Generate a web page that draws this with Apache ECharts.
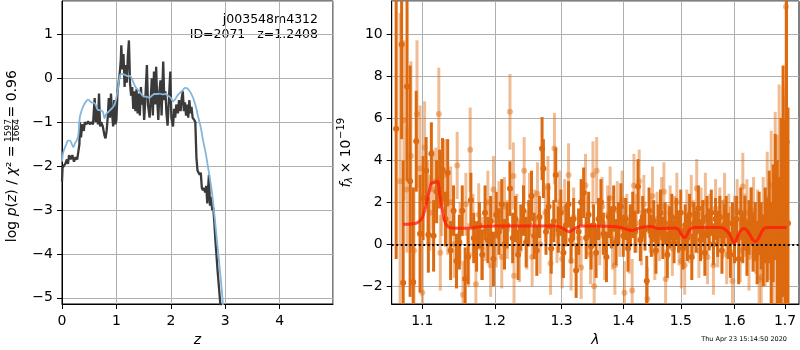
<!DOCTYPE html>
<html><head><meta charset="utf-8">
<script src="https://cdn.jsdelivr.net/npm/echarts@6/dist/echarts.min.js"></script>
<style>html,body{margin:0;padding:0;background:#fff}#c{width:800px;height:350px}</style>
</head><body><div id="c"></div><script>
// ---------- Left panel: log p(z) and chi2 curves ----------
const chi2Z = [0.00,0.01,0.03,0.06,0.09,0.11,0.13,0.16,0.19,0.22,0.25,0.28,0.30,0.32,0.33,0.35,0.37,0.40,0.42,0.45,0.48,0.51,0.54,0.57,0.60,0.62,0.64,0.66,0.68,0.70,0.72,0.75,0.78,0.80,0.82,0.84,0.86,0.88,0.90,0.92,0.94,0.96,0.98,1.00,1.02,1.04,1.06,1.08,1.09,1.11,1.13,1.15,1.17,1.19,1.21,1.23,1.25,1.27,1.29,1.31,1.33,1.35,1.37,1.39,1.41,1.43,1.45,1.47,1.49,1.51,1.53,1.56,1.58,1.61,1.63,1.65,1.67,1.69,1.71,1.73,1.75,1.77,1.79,1.81,1.83,1.86,1.88,1.90,1.92,1.94,1.96,1.99,2.01,2.04,2.06,2.08,2.10,2.13,2.15,2.18,2.20,2.22,2.24,2.26,2.28,2.30,2.32,2.34,2.36,2.38,2.40,2.43,2.45,2.47,2.49,2.51,2.53,2.55,2.57,2.59,2.61,2.63,2.65,2.67,2.69,2.70,2.72,2.74,2.76,2.78,2.80,2.82,2.84,2.86,2.88,2.90,2.92];
const chi2LogP = [-2.35,-2.05,-2.0,-1.95,-1.85,-1.95,-1.75,-1.85,-1.75,-1.9,-1.8,-1.85,-1.85,-1.5,-1.0,-1.35,-1.05,-1.2,-1.0,-1.05,-0.98,-1.05,-1.0,-1.05,-0.45,-1.0,-0.7,-1.05,-0.35,-1.1,-1.0,-1.1,-1.3,-1.37,-1.2,-0.9,-0.45,-0.9,-0.35,-0.8,-1.1,-0.5,-1.05,-0.95,-0.3,-0.1,0.1,0.4,0.75,0.2,0.55,-0.2,0.3,-0.1,0.5,0.86,-0.1,-0.4,-0.2,-0.7,-0.3,-0.75,-0.25,-0.8,-0.35,-0.85,-0.2,-0.6,-0.4,-0.95,-0.5,0.3,-0.6,-0.9,-0.5,0.0,-0.85,0.15,-0.6,0.26,-0.5,-0.95,-0.3,-0.05,-0.85,0.38,-0.5,-0.3,-0.8,-1.08,-0.6,0.15,-0.9,-1.1,-0.7,-0.9,-0.6,-0.8,-0.5,-0.75,-0.45,-0.3,-0.75,-0.55,-0.85,-0.6,-0.9,-0.5,-0.8,-0.65,-0.9,-0.95,-1.0,-1.8,-2.1,-2.15,-2.2,-2.15,-2.5,-2.55,-2.5,-2.6,-2.45,-2.85,-2.4,-2.2,-2.9,-2.7,-3.0,-2.95,-3.3,-3.7,-4.05,-4.4,-4.7,-5.0,-5.3];
const pzZ = [0.00,0.02,0.05,0.08,0.11,0.15,0.18,0.21,0.24,0.27,0.30,0.33,0.37,0.42,0.48,0.54,0.60,0.66,0.70,0.75,0.78,0.81,0.84,0.89,0.94,0.98,1.02,1.06,1.10,1.15,1.20,1.25,1.28,1.32,1.36,1.40,1.45,1.50,1.55,1.60,1.65,1.70,1.75,1.80,1.85,1.90,1.95,2.00,2.04,2.08,2.13,2.18,2.22,2.26,2.30,2.35,2.41,2.46,2.50,2.55,2.59,2.64,2.68,2.72,2.75,2.78,2.81,2.84,2.87,2.90,2.93,2.96];
const pzLogP = [-1.9,-1.7,-1.59,-1.5,-1.42,-1.42,-1.5,-1.57,-1.48,-1.42,-1.3,-0.87,-0.7,-0.57,-0.49,-0.55,-0.57,-0.72,-0.73,-0.76,-0.91,-0.82,-0.78,-0.72,-0.65,-0.55,-0.3,0.04,0.1,0.08,0.05,0.05,0.0,-0.12,-0.22,-0.27,-0.35,-0.42,-0.42,-0.45,-0.4,-0.36,-0.36,-0.35,-0.37,-0.36,-0.4,-0.45,-0.53,-0.48,-0.38,-0.32,-0.27,-0.22,-0.23,-0.3,-0.45,-0.65,-0.87,-1.12,-1.4,-1.7,-2.0,-2.3,-2.54,-2.87,-3.22,-3.6,-3.97,-4.35,-4.74,-5.19];

// ---------- Right panel: spectrum [lambda, flux, error] ----------
const spectrumA = [
[1.066,5.5,6.2],[1.073,9.5,4.5],[1.075,-1.83,5.8],[1.080,7.5,4.5],[1.084,3.0,5.5],[1.088,-1.8,4.5],[1.092,4.9,2.4],[1.097,0.5,2.8],
[1.101,2.2,2.0],[1.105,3.5,1.6],[1.108,0.45,1.8],[1.112,4.3,1.5],[1.115,0.4,1.7],[1.119,2.5,1.5],[1.123,3.1,1.4],[1.127,3.55,1.5],
[1.131,1.2,1.3],[1.134,3.4,1.6],[1.138,-0.3,1.4],[1.142,1.6,1.2],[1.146,-0.8,1.3],[1.150,0.1,1.3],[1.154,1.6,1.2],[1.158,-1.65,1.5],
[1.162,-0.6,1.3],[1.166,2.1,1.3],[1.170,0.3,1.2],[1.174,-0.1,1.2],[1.178,0.9,1.1],[1.182,-0.5,1.2],[1.186,1.5,1.3],[1.190,0.2,1.1],
[1.194,1.1,1.2],[1.198,-0.7,1.3],[1.202,1.4,1.1],[1.206,0.6,1.1],[1.210,1.9,1.2],[1.214,0.0,1.2],[1.218,0.9,1.1],[1.222,2.65,1.3],
[1.226,0.3,1.2],[1.230,1.2,1.1],[1.234,-0.5,1.2],[1.238,0.8,1.1],[1.242,1.6,1.2],[1.246,0.1,1.2],[1.250,1.0,1.1],[1.254,2.3,1.2],
[1.258,0.4,1.1],[1.262,-0.3,1.2],[1.266,1.3,1.0],[1.270,4.55,1.5],[1.272,3.6,1.4],[1.276,0.6,1.1],[1.280,1.8,1.1],[1.284,-0.2,1.2],
[1.288,1.1,1.0],[1.291,3.3,1.3],[1.295,0.7,1.1],[1.299,1.5,1.1],[1.303,-0.4,1.2],[1.307,0.9,1.0],[1.311,1.9,1.1],[1.315,0.2,1.1],
[1.319,1.2,1.0],[1.323,-1.25,1.3],[1.327,0.6,1.1],[1.331,2.0,1.1],[1.335,2.45,1.2],[1.339,0.3,1.0],[1.343,1.4,1.1],[1.347,-0.1,1.1],
[1.351,0.9,1.0],[1.355,-0.4,1.2],[1.359,1.2,1.0],[1.363,2.0,1.1],[1.367,0.5,1.0],[1.372,-0.6,1.2],[1.376,1.3,1.0],[1.380,0.8,1.0],
[1.384,1.7,1.1],[1.388,0.1,1.1],[1.392,1.0,1.0],[1.396,1.8,1.1],[1.400,0.4,1.0],[1.404,1.2,1.0],[1.408,-0.2,1.1],[1.412,0.9,1.0],
[1.416,1.4,1.1],[1.420,0.6,1.0],[1.425,2.75,1.3],[1.429,0.2,1.0],[1.433,1.3,1.0],[1.437,0.7,1.0],[1.440,-1.75,1.2],[1.444,1.6,1.1],
[1.448,0.4,1.0],[1.452,1.1,1.0],[1.456,-0.3,1.1],[1.460,0.9,1.0],[1.464,1.5,1.1],[1.468,0.3,1.0],[1.472,1.0,1.0],[1.476,-0.5,1.1],
[1.480,0.8,1.0],[1.484,1.3,1.1],[1.488,0.1,1.0],[1.492,1.2,1.0],[1.496,0.6,1.0],[1.500,1.5,1.1],[1.504,-0.2,1.0],[1.508,0.9,1.0],
[1.512,0.3,1.1],[1.516,1.4,1.0],[1.520,-0.6,1.1],[1.524,1.0,1.0],[1.528,0.6,1.0],[1.532,1.7,1.1],[1.536,0.2,1.0],[1.540,1.1,1.0],
[1.544,-0.4,1.1],[1.548,1.3,1.0],[1.552,0.7,1.0],[1.556,1.5,1.1],[1.560,0.0,1.0],[1.564,1.2,1.0],[1.568,0.5,1.1],[1.572,1.3,1.0],
[1.576,-0.3,1.1],[1.580,0.9,1.0],[1.584,1.3,1.0],[1.588,0.4,1.1],[1.592,-0.5,1.1],[1.596,1.0,1.0],[1.600,0.2,1.1],[1.604,1.2,1.1],
[1.608,-0.7,1.2],[1.612,1.5,1.2],[1.616,0.3,1.2],[1.620,1.1,1.2],[1.624,-0.2,1.3],[1.628,0.8,1.3],[1.632,1.4,1.3],[1.636,0.1,1.4],
[1.640,0.6,1.4],[1.644,-0.4,1.5],[1.648,1.0,1.5],[1.652,0.4,1.6],[1.656,-0.3,1.7],[1.660,0.9,1.8],[1.664,0.2,2.0],[1.668,1.3,2.2],
[1.672,-0.5,2.5],[1.676,1.0,2.8],[1.680,2.25,3.0],[1.684,0.5,3.5],[1.688,-0.8,4.0],[1.692,1.5,4.5],[1.696,3.0,5.5],[1.700,-1.1,7.0],
[1.703,4.85,8.0],[1.706,1.0,5.5]
];
const spectrumB = [
[1.071,3.0,8.0],[1.076,5.9,3.8],[1.080,2.6,3.0],[1.085,4.2,4.5],[1.089,-0.3,3.0],[1.093,6.2,3.5],[1.097,3.6,3.0],[1.100,-2.3,2.5],
[1.103,4.6,2.2],[1.107,2.0,2.0],[1.110,1.5,1.8],[1.114,2.6,1.9],[1.118,3.0,1.6],[1.122,6.2,2.2],[1.124,-0.4,1.8],[1.126,2.0,1.6],
[1.130,3.3,1.7],[1.134,1.0,1.5],[1.138,2.0,1.7],[1.143,0.0,1.6],[1.147,3.75,1.6],[1.151,0.5,1.5],[1.155,-2.4,1.6],[1.159,1.9,1.5],
[1.163,-0.5,1.5],[1.165,4.5,2.0],[1.169,0.9,1.5],[1.173,-1.9,1.6],[1.177,1.4,1.5],[1.181,-0.2,1.5],[1.186,0.6,1.4],[1.190,2.0,1.5],
[1.194,-1.0,1.5],[1.198,2.6,1.6],[1.202,0.4,1.5],[1.206,1.6,1.4],[1.210,-0.6,1.5],[1.214,1.8,1.4],[1.218,0.7,1.4],[1.222,6.3,1.8],
[1.227,3.25,1.6],[1.228,-1.5,1.5],[1.232,1.0,1.4],[1.236,-0.3,1.5],[1.243,3.5,1.6],[1.247,0.2,1.4],[1.251,1.9,1.5],[1.255,-0.6,1.4],
[1.259,1.2,1.4],[1.263,2.4,1.5],[1.267,0.0,1.4],[1.275,1.5,1.4],[1.279,2.7,1.5],[1.283,-0.9,1.5],[1.289,4.55,1.7],[1.293,0.5,1.4],
[1.297,2.0,1.5],[1.301,-0.7,1.4],[1.305,1.7,1.4],[1.311,3.3,1.5],[1.315,-0.8,1.4],[1.319,1.3,1.4],[1.327,0.3,1.4],[1.331,-1.1,1.5],
[1.338,2.8,1.5],[1.342,0.9,1.4],[1.346,-0.5,1.4],[1.350,3.3,1.6],[1.352,-2.0,1.5],[1.356,3.5,1.6],[1.361,0.4,1.4],[1.365,1.8,1.4],
[1.369,-0.3,1.4],[1.374,1.4,1.4],[1.378,2.2,1.5],[1.382,0.2,1.4],[1.386,-1.0,1.4],[1.390,1.6,1.4],[1.394,0.7,1.3],[1.398,2.1,1.4],
[1.402,-2.3,1.5],[1.406,1.1,1.3],[1.410,0.0,1.4],[1.415,-2.2,1.5],[1.418,2.8,1.5],[1.422,1.0,1.4],[1.427,3.0,1.5],[1.431,0.3,1.3],
[1.435,1.9,1.4],[1.441,-2.6,1.5],[1.446,0.9,1.3],[1.450,2.3,1.4],[1.454,-0.4,1.3],[1.458,1.2,1.3],[1.462,0.5,1.3],[1.466,1.8,1.4],
[1.470,2.5,1.4],[1.473,-1.65,1.4],[1.477,0.6,1.3],[1.481,1.5,1.3],[1.485,-0.2,1.3],[1.489,1.0,1.3],[1.493,2.0,1.4],[1.497,0.3,1.3],
[1.501,-0.8,1.3],[1.507,-1.0,1.4],[1.511,1.3,1.3],[1.515,0.4,1.3],[1.519,1.9,1.4],[1.523,0.8,1.3],[1.529,2.65,1.4],[1.533,-0.3,1.3],
[1.537,1.4,1.3],[1.541,0.6,1.3],[1.545,2.0,1.4],[1.549,-0.6,1.3],[1.553,1.1,1.3],[1.560,-1.0,1.4],[1.564,1.7,1.4],[1.568,0.2,1.3],
[1.572,1.3,1.4],[1.577,0.7,1.4],[1.581,2.0,1.4],[1.585,-0.5,1.4],[1.589,1.0,1.4],[1.592,0.4,1.4],[1.596,-1.75,1.5],[1.600,0.8,1.5],
[1.605,1.6,1.5],[1.611,-0.3,1.5],[1.616,2.75,1.6],[1.620,0.9,1.5],[1.624,1.5,1.6],[1.628,-0.6,1.6],[1.633,1.1,1.6],[1.637,1.6,1.6],
[1.641,0.3,1.7],[1.645,0.9,1.7],[1.648,-1.7,1.8],[1.652,-1.55,1.9],[1.656,1.3,1.9],[1.660,0.0,2.0],[1.664,2.2,2.2],[1.668,0.7,2.4],
[1.672,2.8,2.6],[1.676,-0.2,2.8],[1.680,3.0,3.3],[1.684,1.2,4.0],[1.688,2.9,4.7],[1.692,0.5,5.5],[1.696,2.5,5.0],[1.700,1.0,6.0],
[1.702,11.3,8.0],[1.703,4.9,6.0]
];
const modelLam = [1.075,1.085,1.093,1.099,1.103,1.107,1.111,1.1125,1.117,1.120,1.1235,1.127,1.130,1.134,1.140,1.160,1.180,1.200,1.290,1.300,1.306,1.3115,1.318,1.325,1.331,1.380,1.395,1.405,1.415,1.422,1.430,1.447,1.461,1.490,1.496,1.500,1.505,1.508,1.512,1.517,1.524,1.574,1.585,1.592,1.597,1.600,1.604,1.609,1.615,1.619,1.624,1.630,1.636,1.641,1.647,1.653,1.659,1.665,1.703];
const modelFlux = [0.95,0.97,1.02,1.2,1.6,2.2,2.8,2.93,2.95,3.0,2.3,1.6,1.1,0.85,0.77,0.76,0.84,0.87,0.87,0.8,0.68,0.6,0.7,0.82,0.87,0.85,0.8,0.72,0.65,0.72,0.8,0.84,0.75,0.78,0.7,0.52,0.34,0.32,0.5,0.72,0.8,0.8,0.65,0.4,0.15,0.08,0.25,0.55,0.72,0.75,0.65,0.45,0.2,0.13,0.3,0.6,0.78,0.8,0.8];
const lamTicks = [1.1,1.2,1.3,1.4,1.5,1.6,1.7];
const zeroLevel = 0;

const FONT = 'DejaVu Sans';
const ORANGE = '#dd6a10';
const minus = v => (v < 0 ? '\u2212' + Math.abs(v) : String(v));

function errBars(pts, opacity) {
  return {
    type: 'custom', xAxisIndex: 1, yAxisIndex: 1, clip: true, silent: true,
    data: pts.map(p => [p[0], p[1] - p[2], p[1] + p[2]]),
    encode: { x: 0, y: [1, 2] },
    renderItem: (params, api) => {
      const a = api.coord([api.value(0), api.value(1)]);
      const b = api.coord([api.value(0), api.value(2)]);
      return { type: 'line', shape: { x1: a[0], y1: a[1], x2: b[0], y2: b[1] },
        style: { stroke: ORANGE, lineWidth: 3, opacity: opacity } };
    }
  };
}
function pointsSeries(pts, opacity) {
  return { type: 'scatter', xAxisIndex: 1, yAxisIndex: 1, symbolSize: 6, silent: true,
    data: pts.map(p => [p[0], p[1]]), itemStyle: { color: ORANGE, opacity: opacity } };
}

const axisCommon = {
  axisLine: { show: true, onZero: false, lineStyle: { color: '#000', width: 1 } },
  axisTick: { show: true, inside: false, length: 5, lineStyle: { color: '#000', width: 1 } },
  splitLine: { show: true, lineStyle: { color: '#b0b0b0', width: 1 } },
};
const labelCommon = { color: '#000', fontSize: 14, fontFamily: FONT };

const chart = echarts.init(document.getElementById('c'), null, { renderer: 'canvas' });
chart.setOption({
  animation: false,
  backgroundColor: '#fff',
  grid: [
    { left: 62, top: 1, width: 271, height: 303, containLabel: false, outerBoundsMode: 'none', show: true, borderColor: '#000', borderWidth: 1, backgroundColor: 'transparent' },
    { left: 391.7, top: 1, width: 407.3, height: 303, containLabel: false, outerBoundsMode: 'none', show: true, borderColor: '#000', borderWidth: 1, backgroundColor: 'transparent' }
  ],
  xAxis: [
    Object.assign({}, axisCommon, { type: 'value', gridIndex: 0, min: 0, max: 4.98,
      axisLabel: Object.assign({}, labelCommon, { margin: 10, showMaxLabel: false, formatter: minus }),
      name: 'z', nameLocation: 'middle', nameGap: 29,
      nameTextStyle: { color: '#000', fontSize: 14, fontFamily: FONT, fontStyle: 'italic' } }),
    Object.assign({}, axisCommon, { type: 'log', gridIndex: 1, logBase: 10, min: 1.0603, max: 1.7287,
      axisLabel: Object.assign({}, labelCommon, { margin: 10, customValues: lamTicks, formatter: v => Number(v).toFixed(1) }),
      axisTick: { show: true, inside: false, length: 5, customValues: lamTicks, lineStyle: { color: '#000', width: 1 } },
      splitLine: { show: true, customValues: lamTicks, lineStyle: { color: '#b0b0b0', width: 1 } },
      name: 'λ', nameLocation: 'middle', nameGap: 29,
      nameTextStyle: { color: '#000', fontSize: 14, fontFamily: FONT, fontStyle: 'italic' } })
  ],
  yAxis: [
    Object.assign({}, axisCommon, { type: 'value', gridIndex: 0, min: -5.14, max: 1.757,
      axisLabel: Object.assign({}, labelCommon, { margin: 9, showMinLabel: false, showMaxLabel: false, formatter: minus }) }),
    Object.assign({}, axisCommon, { type: 'value', gridIndex: 1, min: -2.84, max: 11.57, splitNumber: 7,
      axisLabel: Object.assign({}, labelCommon, { margin: 9, showMinLabel: false, showMaxLabel: false, formatter: minus }) })
  ],
  series: [
    { type: 'line', xAxisIndex: 0, yAxisIndex: 0, showSymbol: false, silent: true, clip: true,
      data: chi2Z.map((z, i) => [z, chi2LogP[i]]),
      lineStyle: { color: '#3a3a3a', width: 2.3 } },
    { type: 'line', xAxisIndex: 0, yAxisIndex: 0, showSymbol: false, silent: true, clip: true, smooth: 0.3,
      data: pzZ.map((z, i) => [z, pzLogP[i]]),
      lineStyle: { color: '#84b5da', width: 1.8 } },
    errBars(spectrumA, 1),
    pointsSeries(spectrumA, 1),
    errBars(spectrumB, 0.45),
    pointsSeries(spectrumB, 0.45),
    { type: 'line', xAxisIndex: 1, yAxisIndex: 1, showSymbol: false, silent: true, smooth: 0.35,
      data: modelLam.map((l, i) => [l, modelFlux[i]]),
      lineStyle: { color: '#ff1a0a', width: 3, opacity: 0.75 },
      markLine: { silent: true, symbol: 'none', label: { show: false },
        lineStyle: { color: '#000', width: 2, type: [2, 2.5], opacity: 1 },
        data: [{ yAxis: zeroLevel }] } }
  ],
  graphic: [
    { type: 'text', x: 318, y: 20, style: { text: 'j003548m4312', fontSize: 12.5, fontFamily: FONT, fill: '#000', align: 'right', verticalAlign: 'middle' } },
    { type: 'text', x: 318, y: 34.5, style: { text: 'ID=2071   z=1.2408', fontSize: 12.5, fontFamily: FONT, fill: '#000', align: 'right', verticalAlign: 'middle' } },
    { type: 'text', x: 787, y: 339, style: { text: 'Thu Apr 23 15:14:50 2020', fontSize: 6.5, fontFamily: FONT, fill: '#000', align: 'right', verticalAlign: 'middle' } },
    { type: 'group', x: 12, y: 153.5, rotation: Math.PI / 2, children: [
      { type: 'text', x: 8, y: 0, style: { text: 'log {i|p}({i|z}) / {i|χ}² =', fontSize: 14, fontFamily: FONT, fill: '#000', align: 'right', verticalAlign: 'middle',
        rich: { i: { fontStyle: 'italic', fontSize: 14, fontFamily: FONT, fill: '#000' } } } },
      { type: 'text', x: 23, y: -3.5, style: { text: '1597', fontSize: 9, fontFamily: FONT, fill: '#000', align: 'center', verticalAlign: 'middle' } },
      { type: 'line', shape: { x1: 12, y1: 0.5, x2: 34, y2: 0.5 }, style: { stroke: '#000', lineWidth: 0.8 } },
      { type: 'text', x: 23, y: 5, style: { text: '1664', fontSize: 9, fontFamily: FONT, fill: '#000', align: 'center', verticalAlign: 'middle' } },
      { type: 'text', x: 36, y: 0, style: { text: '= 0.96', fontSize: 14, fontFamily: FONT, fill: '#000', align: 'left', verticalAlign: 'middle' } }
    ] },
    { type: 'group', x: 346, y: 153.5, rotation: Math.PI / 2, children: [
      { type: 'text', x: -34, y: 0, style: { text: 'f', fontSize: 14, fontStyle: 'italic', fontFamily: FONT, fill: '#000', align: 'left', verticalAlign: 'middle' } },
      { type: 'text', x: -29.5, y: 3.5, style: { text: 'λ', fontSize: 10, fontStyle: 'italic', fontFamily: FONT, fill: '#000', align: 'left', verticalAlign: 'middle' } },
      { type: 'text', x: -20, y: 0, style: { text: '× 10', fontSize: 14, fontFamily: FONT, fill: '#000', align: 'left', verticalAlign: 'middle' } },
      { type: 'text', x: 14.5, y: -5, style: { text: '\u221219', fontSize: 10, fontFamily: FONT, fill: '#000', align: 'left', verticalAlign: 'middle' } }
    ] }
  ]
});
</script></body></html>
